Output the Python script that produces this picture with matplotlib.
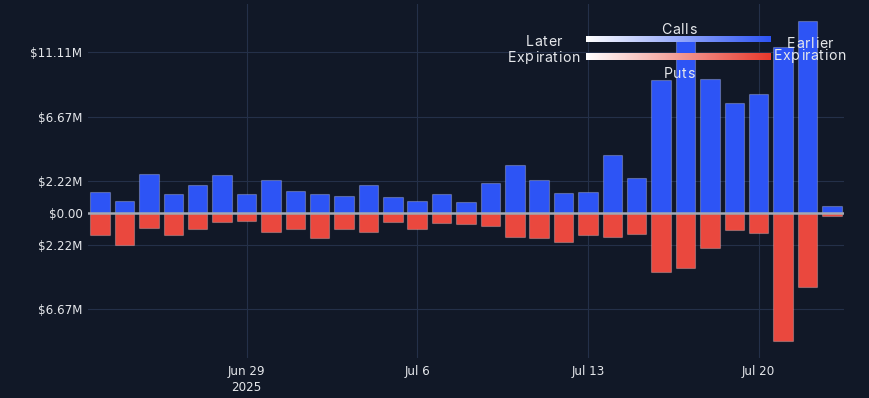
import matplotlib
matplotlib.use("Agg")
import matplotlib.pyplot as plt
import matplotlib.dates as mdates
import numpy as np
import pandas as pd
from matplotlib.colors import LinearSegmentedColormap
from matplotlib.font_manager import FontProperties

# daily premium by expiration day, in $M
dates = pd.date_range("2025-06-23", "2025-07-23", freq="D")
calls = [1.45, 0.83, 2.73, 1.32, 1.97, 2.66, 1.34, 2.31, 1.55, 1.34, 1.18,
         1.94, 1.13, 0.83, 1.31, 0.76, 2.06, 3.32, 2.31, 1.41, 1.48, 3.99,
         2.40, 9.23, 12.04, 9.30, 7.64, 8.21, 11.49, 13.26, 0.51]
puts = [1.54, 2.24, 1.06, 1.52, 1.10, 0.60, 0.57, 1.31, 1.13, 1.70, 1.13,
        1.34, 0.59, 1.10, 0.71, 0.78, 0.87, 1.63, 1.75, 1.98, 1.49, 1.63,
        1.45, 4.08, 3.78, 2.39, 1.17, 1.36, 8.86, 5.14, 0.20]
y_ticks = [-6.67, -2.22, 0.0, 2.22, 6.67, 11.11]
x_ticks = ["2025-06-29", "2025-07-06", "2025-07-13", "2025-07-20"]
x_tick_labels = ["Jun 29\n2025", "Jul 6", "Jul 13", "Jul 20"]

BG = "#111827"
GRID = "#243049"
BLUE = "#2d54f5"
RED = "#ea483e"
TEXT = "#e5e7eb"

W, H = 870, 398
fig = plt.figure(figsize=(W / 100, H / 100), dpi=100, facecolor=BG)


def box(x0, y0, x1, y1):
    return [x0 / W, 1 - y1 / H, (x1 - x0) / W, (y1 - y0) / H]


ax = fig.add_axes(box(88, 4, 844, 358))
ax.set_facecolor(BG)

x = mdates.date2num(dates)
ax.bar(x, calls, width=0.8, color=BLUE, edgecolor=(1, 1, 1, 0.25), linewidth=0.8, zorder=2)
ax.bar(x, [-p for p in puts], width=0.8, color=RED, edgecolor=(1, 1, 1, 0.25), linewidth=0.8, zorder=2)
ax.axhline(0, color="#a3a8b3", linewidth=1.8, zorder=3)

ax.set_xlim(x[0] - 0.5, x[-1] + 0.5)
ax.set_ylim(-10.03, 14.46)
ax.set_yticks(y_ticks)
ax.set_yticklabels([f"${abs(v):.2f}M" if v != 0 else "$0.00" for v in y_ticks])
ax.set_xticks(mdates.date2num(pd.to_datetime(x_ticks)))
ax.set_xticklabels(x_tick_labels, linespacing=1.35)
ax.grid(True, color=GRID, linewidth=0.8, zorder=0)
ax.set_axisbelow(True)
for s in ax.spines.values():
    s.set_visible(False)
ax.tick_params(length=0, colors=TEXT, labelsize=8.6)
ax.tick_params(axis="y", pad=4)
ax.tick_params(axis="x", pad=5)

# gradient legend
grad = np.linspace(0, 1, 256)[None, :]
for (y0, y1), col in [((36, 42.3), BLUE), ((53.3, 60), "#e8392c")]:
    cax = fig.add_axes(box(586, y0, 771, y1))
    cax.imshow(grad, aspect="auto", cmap=LinearSegmentedColormap.from_list("g", ["#ffffff", col]))
    cax.set_axis_off()

# legend text has letter spacing, so place it char by char
fp = FontProperties(family="Inter", size=10.2)
renderer = fig.canvas.get_renderer()
SPACING = 0.6


def label(px, py, s):
    widths = [renderer.get_text_width_height_descent(c, fp, ismath=False)[0] for c in s]
    total = sum(widths) + SPACING * (len(s) - 1)
    cx = px - total / 2
    for c, w in zip(s, widths):
        fig.text(cx / W, 1 - py / H, c, ha="left", va="center_baseline", color=TEXT,
                 fontproperties=fp)
        cx += w + SPACING


label(679, 28, "Calls")
label(679, 73, "Puts")
label(544, 40.5, "Later")
label(544, 56, "Expiration")
label(810, 42, "Earlier")
label(810, 54.8, "Expiration")

fig.savefig("out.png", dpi=100, facecolor=BG)
